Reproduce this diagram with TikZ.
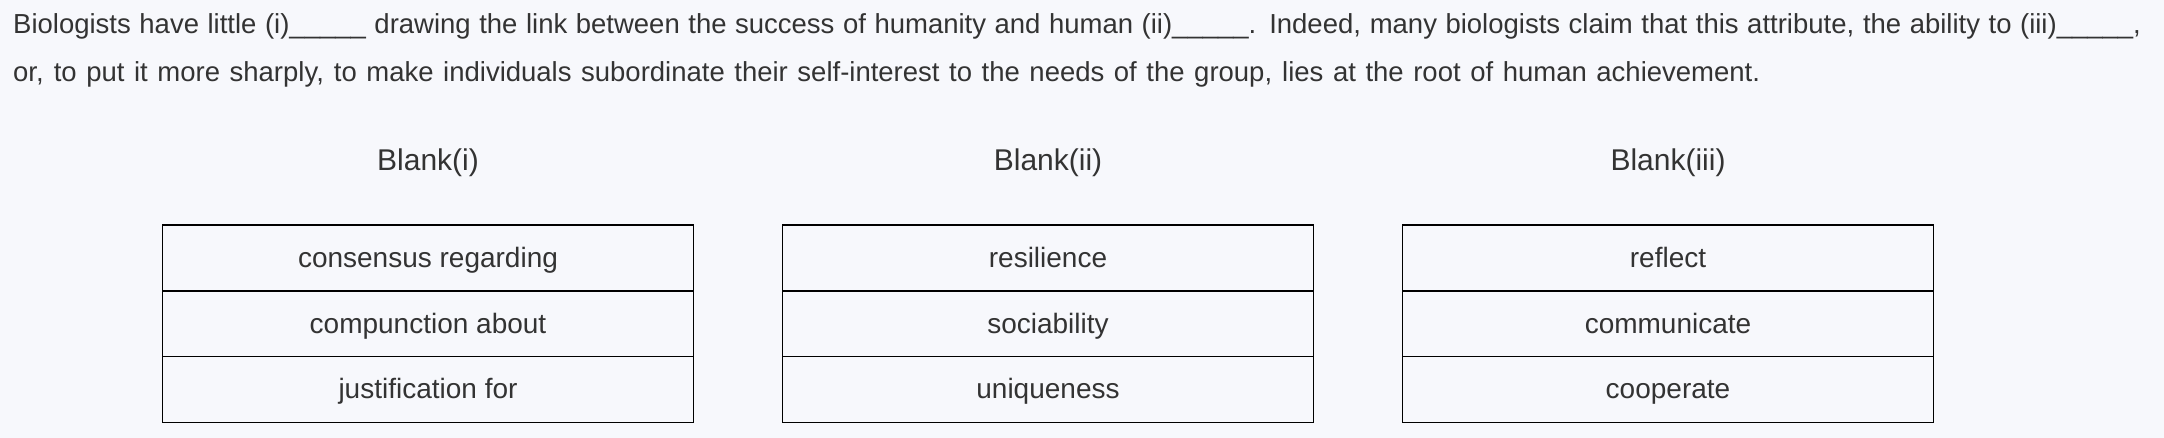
\documentclass[tikz,border=0pt]{standalone}
\usepackage{fontspec}
\setmainfont{Liberation Sans}
\usepackage{xcolor}
\usetikzlibrary{positioning}
\definecolor{page_bg}{HTML}{F7F8FC}
\definecolor{text_grey}{HTML}{333333}

\begin{document}
\begin{tikzpicture}[x=1pt, y=-1pt,
	cell/.style={draw=black, line width=1.7pt, outer sep=0pt, inner sep=0pt, minimum width=531pt, minimum height=65.8pt, text=text_grey, font=\fontsize{28}{34}\selectfont, text height=20pt, text depth=1.2pt},
	head/.style={anchor=base, inner sep=0pt, text=text_grey, font=\fontsize{30}{36}\selectfont},
	passage/.style={anchor=base west, inner sep=0pt, text=text_grey, font=\fontsize{27.5}{39}\selectfont}]
	\fill[page_bg] (0, 0) rectangle (2164, 438);
	\useasboundingbox (0, 0) rectangle (2164, 438);
	\node[passage] (L1) at (13, 33.3) {\makebox[2128pt][s]{Biologists have little (i)\_\_\_\_\_ drawing the link between the success of humanity and human (ii)\_\_\_\_\_. Indeed, many biologists claim that this attribute, the ability to (iii)\_\_\_\_\_,}};
	\node[passage] (L2) at (13, 81.7) {\makebox[1747pt][s]{or, to put it more sharply, to make individuals subordinate their self-interest to the needs of the group, lies at the root of human achievement.}};
	\node[head] (HA) at (428, 170.5) {Blank(i)};
	\node[head] (HB) at (1048, 170.5) {Blank(ii)};
	\node[head] (HC) at (1668, 170.5) {Blank(iii)};
	\node[cell] (A1) at (428, 257.9) {consensus regarding};
	\node[cell, below=0pt of A1] (A2) {compunction about};
	\node[cell, below=0pt of A2] (A3) {justification for};
	\node[cell] (B1) at (1048, 257.9) {resilience};
	\node[cell, below=0pt of B1] (B2) {sociability};
	\node[cell, below=0pt of B2] (B3) {uniqueness};
	\node[cell] (C1) at (1668, 257.9) {reflect};
	\node[cell, below=0pt of C1] (C2) {communicate};
	\node[cell, below=0pt of C2] (C3) {cooperate};
\end{tikzpicture}
\end{document}
